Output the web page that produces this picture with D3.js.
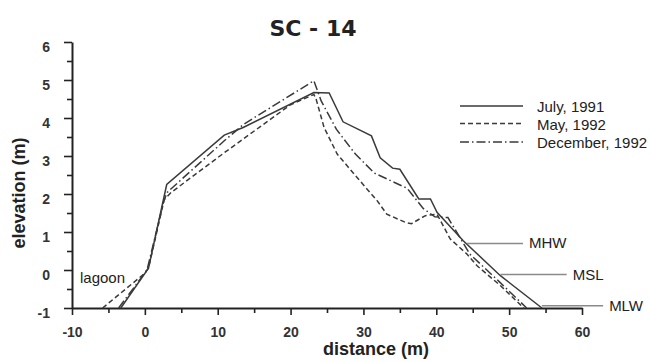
<!DOCTYPE html>
<html>
<head>
<meta charset="utf-8">
<script src="https://cdn.jsdelivr.net/npm/d3@7"></script>
<style>
  html, body { margin: 0; padding: 0; background: #fff; overflow: hidden; }
  svg { display: block; overflow: visible; }
</style>
</head>
<body>
<script>
// profile SC-14, distance (m) vs elevation (m)
const julyDist = [-3.3, 0.5, 3.0, 10.9, 13.5, 23.2, 25.3, 27.2, 31.1, 32.3, 34.0, 35.0, 37.6, 39.2, 40.1, 43.7, 48.8, 54.5];
const julyElev = [-1.0, 0.05, 2.25, 3.55, 3.75, 4.67, 4.66, 3.9, 3.53, 2.95, 2.68, 2.65, 1.87, 1.87, 1.52, 0.77, -0.15, -1.0];

const mayDist = [-5.8, -0.1, 0.5, 2.65, 3.6, 11.0, 20.0, 23.2, 23.5, 24.6, 26.4, 29.1, 31.9, 33.2, 35.8, 36.6, 38.5, 40.1, 41.9, 44.2, 45.6, 48.8, 52.0];
const mayElev = [-1.0, -0.1, 0.05, 1.85, 2.04, 3.1, 4.35, 4.62, 4.5, 3.75, 3.05, 2.44, 1.82, 1.47, 1.25, 1.22, 1.43, 1.47, 0.82, 0.42, 0.11, -0.41, -1.0];

const decDist = [-3.6, 0.3, 2.65, 3.1, 10.9, 13.6, 23.2, 24.2, 26.3, 28.9, 31.5, 36.0, 38.2, 39.8, 41.6, 44.6, 48.6, 52.4];
const decElev = [-1.0, 0.0, 1.85, 2.05, 3.4, 3.84, 4.98, 4.45, 3.7, 3.05, 2.55, 2.15, 1.62, 1.4, 1.38, 0.42, -0.3, -1.0];

const seriesNames = ["July, 1991", "May, 1992", "December, 1992"];
const seriesDash = [null, "5,3", "9,3,1.5,3"];

// tide levels drawn as leader lines on the right
const tideNames = ["MHW", "MSL", "MLW"];
const tideElev = [0.7, -0.12, -0.94];
const tideFrom = [44.2, 48.8, 54.5];
const tideTo = [51.9, 57.9, 62.9];

const xTicks = [-10, 0, 10, 20, 30, 40, 50, 60];
const yTicks = [-1, 0, 1, 2, 3, 4, 5, 6];

const font = "'Liberation Sans', Arial, Helvetica, sans-serif";
const width = 652;
const height = 362;
const margin = { top: 42, right: 70, bottom: 54, left: 72 };
const innerWidth = width - margin.left - margin.right;
const innerHeight = height - margin.top - margin.bottom;

const svg = d3.select("body")
    .append("svg")
    .attr("width", width)
    .attr("height", height)
    .attr("viewBox", [0, 0, width, height])
    .attr("font-family", font)
    .attr("fill", "#222");

const graph = svg.append("g")
    .attr("transform", "translate(" + margin.left + "," + margin.top + ")");

const x = d3.scaleLinear().domain([-10, 60]).range([0, innerWidth]);
const y = d3.scaleLinear().domain([-1, 6]).range([innerHeight, 0]);
const plain = t => String(t); // keep the ascii hyphen for negatives

// minor ticks first (no labels), then main axes on top
graph.append("g")
    .call(d3.axisLeft(y).tickValues(d3.range(-0.5, 6, 1)).tickSize(5).tickSizeOuter(0))
    .call(g => g.select(".domain").remove())
    .call(g => g.selectAll("text").remove());
graph.append("g")
    .attr("transform", "translate(0," + innerHeight + ")")
    .call(d3.axisBottom(x).tickValues(d3.range(-5, 60, 10)).tickSize(5).tickSizeOuter(0))
    .call(g => g.select(".domain").remove())
    .call(g => g.selectAll("text").remove());

const yAxis = graph.append("g")
    .call(d3.axisLeft(y).tickValues(yTicks).tickSize(8).tickSizeOuter(0).tickPadding(14).tickFormat(plain))
    .attr("font-size", 14)
    .attr("font-family", font)
    .attr("font-weight", "bold");
yAxis.selectAll("text").attr("y", 5);

graph.append("g")
    .attr("transform", "translate(0," + innerHeight + ")")
    .call(d3.axisBottom(x).tickValues(xTicks).tickSize(7).tickSizeOuter(0).tickPadding(12).tickFormat(plain))
    .attr("font-size", 14)
    .attr("font-family", font)
    .attr("font-weight", "bold");

svg.selectAll(".tick line").attr("stroke", "#222").attr("stroke-width", 1.6);
svg.selectAll(".domain").attr("stroke", "#222").attr("stroke-width", 2);
svg.selectAll(".tick text").attr("fill", "#333");

// profiles
const line = d3.line().x(d => x(d[0])).y(d => y(d[1]));
const series = [
    d3.zip(julyDist, julyElev),
    d3.zip(mayDist, mayElev),
    d3.zip(decDist, decElev)
];

graph.selectAll(".profile")
    .data(series)
    .enter()
    .append("path")
    .attr("class", "profile")
    .attr("d", d => line(d))
    .attr("fill", "none")
    .attr("stroke", "#3a3a3a")
    .attr("stroke-width", 1.5)
    .attr("stroke-dasharray", (d, i) => seriesDash[i]);

// tide leader lines
graph.selectAll(".tide")
    .data(tideNames)
    .enter()
    .append("line")
    .attr("class", "tide")
    .attr("x1", (d, i) => x(tideFrom[i]))
    .attr("x2", (d, i) => x(tideTo[i]))
    .attr("y1", (d, i) => y(tideElev[i]))
    .attr("y2", (d, i) => y(tideElev[i]))
    .attr("stroke", "#8a8a8a")
    .attr("stroke-width", 1.5);

graph.selectAll(".tide-label")
    .data(tideNames)
    .enter()
    .append("text")
    .attr("class", "tide-label")
    .attr("x", (d, i) => x(tideTo[i]) + 6)
    .attr("y", (d, i) => y(tideElev[i]) + 5)
    .attr("font-size", 15)
    .text(d => d);

graph.append("text")
    .attr("x", x(-8.9))
    .attr("y", y(-0.33))
    .attr("font-size", 15)
    .text("lagoon");

// legend
const legend = graph.append("g")
    .attr("transform", "translate(" + (460 - margin.left) + "," + (106 - margin.top) + ")");
const legendRow = [0, 17.5, 36];

legend.selectAll("line")
    .data(seriesNames)
    .enter()
    .append("line")
    .attr("x1", 0)
    .attr("x2", 63)
    .attr("y1", (d, i) => legendRow[i])
    .attr("y2", (d, i) => legendRow[i])
    .attr("stroke", "#3a3a3a")
    .attr("stroke-width", 1.5)
    .attr("stroke-dasharray", (d, i) => seriesDash[i]);

legend.selectAll("text")
    .data(seriesNames)
    .enter()
    .append("text")
    .attr("x", 77)
    .attr("y", (d, i) => legendRow[i] + 6)
    .attr("font-size", 15)
    .text(d => d);

// titles
svg.append("text")
    .attr("x", 313)
    .attr("y", 36)
    .attr("text-anchor", "middle")
    .attr("font-family", "'DejaVu Sans', sans-serif")
    .attr("font-size", 22)
    .attr("font-weight", "bold")
    .text("SC - 14");

svg.append("text")
    .attr("x", 376)
    .attr("y", 355)
    .attr("text-anchor", "middle")
    .attr("font-size", 18)
    .attr("font-weight", "bold")
    .text("distance (m)");

svg.append("text")
    .attr("transform", "translate(25,193) rotate(-90)")
    .attr("text-anchor", "middle")
    .attr("font-size", 18)
    .attr("font-weight", "bold")
    .text("elevation (m)");
</script>
</body>
</html>
